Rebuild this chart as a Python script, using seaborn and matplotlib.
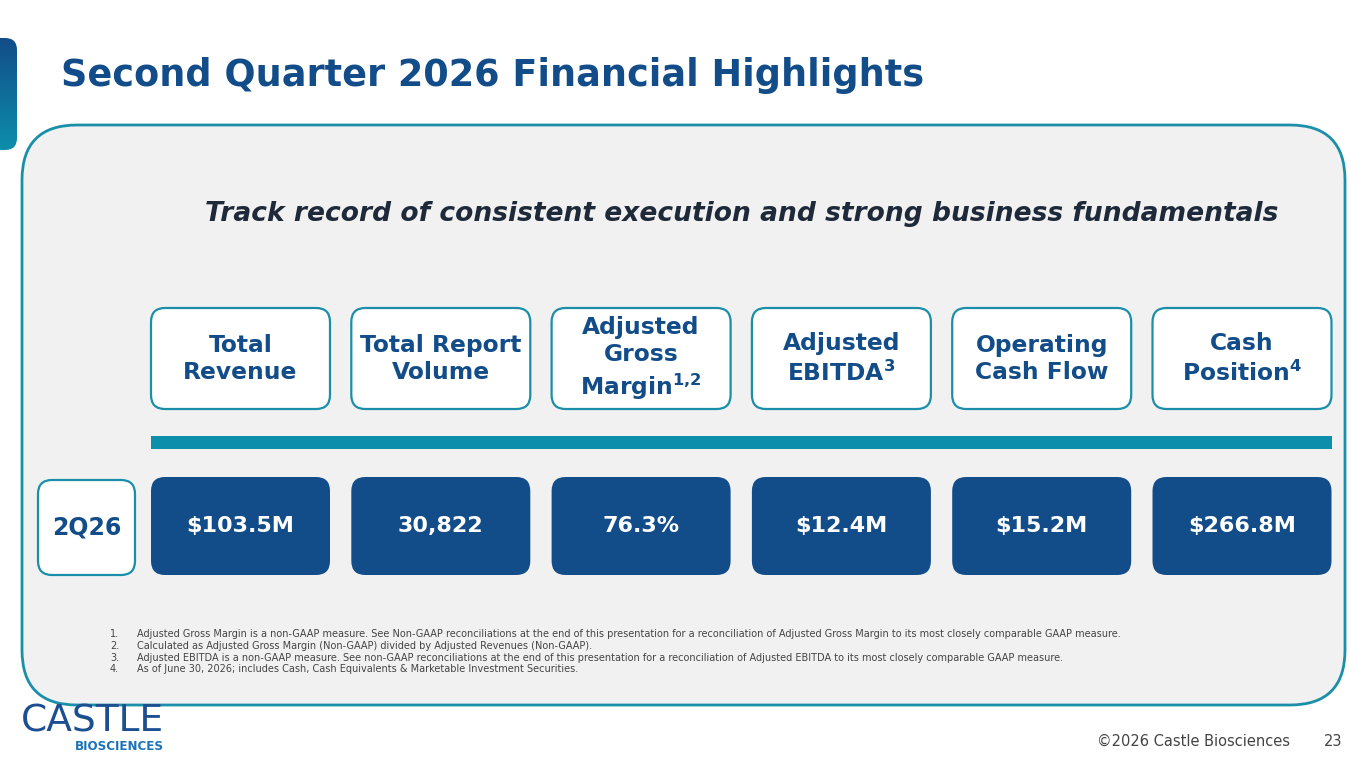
import numpy as np
import seaborn as sns
import matplotlib.pyplot as plt
from matplotlib.patches import FancyBboxPatch

# slide text / data
title = "Second Quarter 2026 Financial Highlights"
subtitle = "Track record of consistent execution and strong business fundamentals"
quarter = "2Q26"
metrics = [
    "Total\nRevenue",
    "Total Report\nVolume",
    "Adjusted\nGross\nMargin$^{\\mathbf{1{,}2}}$",
    "Adjusted\nEBITDA$^{\\mathbf{3}}$",
    "Operating\nCash Flow",
    "Cash\nPosition$^{\\mathbf{4}}$",
]
values = ["$103.5M", "30,822", "76.3%", "$12.4M", "$15.2M", "$266.8M"]
footnotes = [
    "Adjusted Gross Margin is a non-GAAP measure. See Non-GAAP reconciliations at the end of this presentation for a reconciliation of Adjusted Gross Margin to its most closely comparable GAAP measure.",
    "Calculated as Adjusted Gross Margin (Non-GAAP) divided by Adjusted Revenues (Non-GAAP).",
    "Adjusted EBITDA is a non-GAAP measure. See non-GAAP reconciliations at the end of this presentation for a reconciliation of Adjusted EBITDA to its most closely comparable GAAP measure.",
    "As of June 30, 2026; includes Cash, Cash Equivalents & Marketable Investment Securities.",
]
footer = "©2026 Castle Biosciences"
page = "23"

sns.set_theme(style="white")
plt.rcParams["font.family"] = ["DejaVu Sans"]
plt.rcParams["mathtext.fontset"] = "dejavusans"

navy = "#124d89"
teal = "#0d8eab"
panel = "#f1f1f1"

fig = plt.figure(figsize=(13.65, 7.68), dpi=100)
ax = fig.add_axes([0, 0, 1, 1])
ax.set_xlim(0, 1365)
ax.set_ylim(768, 0)
ax.axis("off")

# left tab with gradient
grad = np.linspace(0, 1, 100).reshape(-1, 1)
cmap = sns.blend_palette(["#124d89", "#0d8eab"], as_cmap=True)
tab = FancyBboxPatch((-20, 38), 37, 112, boxstyle="round,pad=0,rounding_size=12",
                     facecolor="none", edgecolor="none")
ax.add_patch(tab)
im = ax.imshow(grad, cmap=cmap, extent=(-20, 17, 150, 38), aspect="auto", zorder=1)
im.set_clip_path(tab)
ax.set_xlim(0, 1365)
ax.set_ylim(768, 0)

# title
ax.text(61, 76, title, fontsize=26.4, fontweight="bold", color=navy, va="center", ha="left")

# main panel
ax.add_patch(FancyBboxPatch((22, 125), 1323, 580, boxstyle="round,pad=0,rounding_size=55",
                            facecolor=panel, edgecolor="#1b8fa9", linewidth=2))

ax.text(742, 214, subtitle, fontsize=19.1, fontweight="bold", fontstyle="italic",
        color="#1e2a3a", va="center", ha="center")

# columns
x0, step, w = 151, 200.3, 179
for i, (m, v) in enumerate(zip(metrics, values)):
    x = x0 + i * step
    ax.add_patch(FancyBboxPatch((x, 308), w, 101, boxstyle="round,pad=0,rounding_size=14",
                                facecolor="white", edgecolor="#1b8fa9", linewidth=1.6))
    ax.text(x + w / 2, 359, m, fontsize=16.8, fontweight="bold", color=navy,
            ha="center", va="center", linespacing=1.25)
    ax.add_patch(FancyBboxPatch((x, 477), w, 98, boxstyle="round,pad=0,rounding_size=14",
                                facecolor=navy, edgecolor="none"))
    ax.text(x + w / 2, 526, v, fontsize=16, fontweight="bold", color="white",
            ha="center", va="center")

# teal divider
ax.add_patch(plt.Rectangle((151, 436), 1181, 13, facecolor=teal, edgecolor="none"))

# quarter label
ax.add_patch(FancyBboxPatch((38, 480), 97, 95, boxstyle="round,pad=0,rounding_size=14",
                            facecolor="white", edgecolor="#1b8fa9", linewidth=1.6))
ax.text(86.5, 527, quarter, fontsize=17, fontweight="bold", color=navy,
        ha="center", va="center")

# footnotes
for i, f in enumerate(footnotes):
    y = 634 + i * 11.8
    ax.text(110, y, f"{i + 1}.", fontsize=7.05, color="#444444", va="center", ha="left")
    ax.text(137, y, f, fontsize=7.05, color="#444444", va="center", ha="left")

# logo
ax.text(21, 739, "CASTLE", fontsize=27, color="#1c4f8f", va="bottom", ha="left",
        family="Liberation Sans Narrow")
ax.text(164, 740, "BIOSCIENCES", fontsize=8.6, fontweight="bold", color="#1a72b8",
        va="top", ha="right", family="Liberation Sans Narrow")

# footer
ax.text(1290, 741, footer, fontsize=10.5, color="#444444", va="center", ha="right")
ax.text(1342, 741, page, fontsize=10.5, color="#444444", va="center", ha="right")

fig.savefig("out.png", dpi=100, facecolor="white")
